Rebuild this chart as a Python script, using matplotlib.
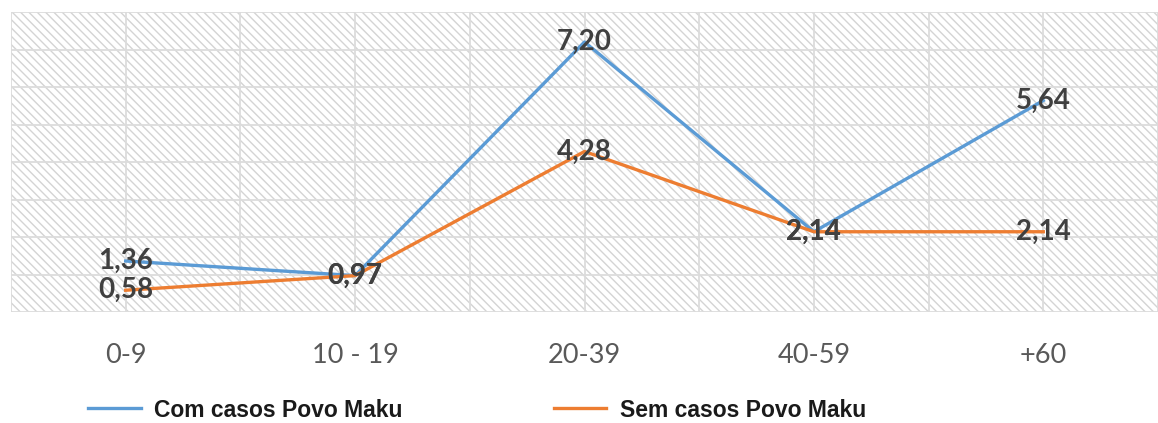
import numpy as np
import matplotlib.pyplot as plt
from matplotlib.patches import Rectangle

# Dados (faixas etárias)
faixas = ["0-9", "10 - 19", "20-39", "40-59", "+60"]
com_maku = [1.36, 0.97, 7.20, 2.14, 5.64]
sem_maku = [0.58, 0.97, 4.28, 2.14, 2.14]
nomes = ["Com casos Povo Maku", "Sem casos Povo Maku"]

azul = "#5B9BD5"
laranja = "#ED7D31"

plt.rcParams["hatch.linewidth"] = 1.0

fig = plt.figure(figsize=(11.58, 4.23), dpi=100)
ax = fig.add_axes([11 / 1158, 1 - 312 / 423, 1 - 11 / 1158, 300 / 423])

# fundo hachurado
fundo = Rectangle((0, 0), 1, 1, transform=ax.transAxes, facecolor="white",
                  edgecolor="#d4d4d4", hatch="\\\\\\\\", linewidth=0, zorder=0)
ax.add_patch(fundo)

x = np.arange(len(faixas))
ax.set_xlim(-0.5, len(faixas) - 0.5)
ax.set_ylim(0, 8)

# grade
for yv in range(0, 9):
    ax.axhline(yv, color="#dcdcdc", lw=1.3, zorder=1)
for xv in np.arange(-0.5, len(faixas), 0.5):
    ax.axvline(xv, color="#dcdcdc", lw=1.3, zorder=1)

ax.plot(x, com_maku, color=azul, lw=2.4, label=nomes[0], zorder=3)
ax.plot(x, sem_maku, color=laranja, lw=2.4, label=nomes[1], zorder=3)

# rótulos de dados
for serie in (com_maku, sem_maku):
    for xi, v in zip(x, serie):
        ax.text(xi, v, f"{v:.2f}".replace(".", ","), ha="center", va="center",
                fontsize=20, fontweight="bold", family="Lato", color="#404040",
                zorder=4)

ax.set_xticks(x)
ax.set_xticklabels(faixas, fontsize=19.5, family="Lato", color="#595959")
ax.tick_params(axis="x", length=0, pad=22)
ax.set_yticks([])
for s in ax.spines.values():
    s.set_visible(False)

fig.legend(loc="center left", bbox_to_anchor=(88 / 1158, 1 - 410 / 423), ncol=2,
           frameon=False, borderpad=0, borderaxespad=0,
           handlelength=2.3, handletextpad=0.58, columnspacing=6.6,
           prop={"family": "Liberation Sans", "weight": "bold", "size": 16.5},
           labelcolor="#1a1a1a")

fig.savefig("out.png", dpi=100)
